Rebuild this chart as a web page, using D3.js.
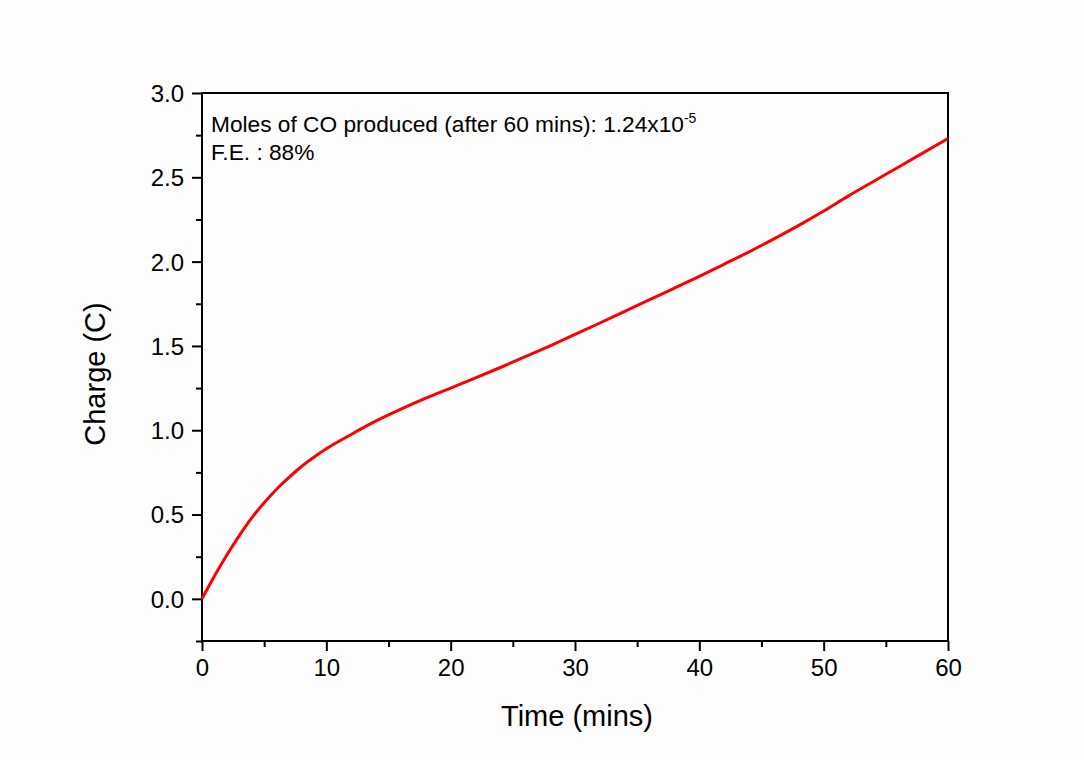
<!DOCTYPE html>
<html>
<head>
<meta charset="utf-8">
<script src="https://cdn.jsdelivr.net/npm/d3@7"></script>
<style>
  html, body { margin: 0; padding: 0; background: #fdfdfd; }
  svg { display: block; }
  text { font-family: "Liberation Sans", Arial, sans-serif; fill: #000; }
</style>
</head>
<body>
<svg id="chart" width="1084" height="760"></svg>
<script>
// Time (mins) and accumulated charge (C) during electrolysis
const timeMins = [0, 1, 2, 3, 4, 5, 6, 7, 8, 9, 10, 12, 14, 16, 18, 20, 22, 24, 26, 28, 30,
                  32, 34, 36, 38, 40, 42, 44, 46, 48, 50, 52, 54, 56, 58, 60];
const chargeC = [0, 0.135, 0.26, 0.375, 0.48, 0.57, 0.65, 0.72, 0.785, 0.84, 0.89, 0.975,
                 1.055, 1.125, 1.19, 1.25, 1.31, 1.372, 1.436, 1.501, 1.568, 1.636, 1.705,
                 1.774, 1.843, 1.913, 1.985, 2.058, 2.135, 2.215, 2.30, 2.39, 2.475, 2.56,
                 2.645, 2.73];

const xMajorTicks = [0, 10, 20, 30, 40, 50, 60];
const xMinorTicks = [5, 15, 25, 35, 45, 55];
const yMajorTicks = [0, 0.5, 1.0, 1.5, 2.0, 2.5, 3.0];
const yMinorTicks = [-0.25, 0.25, 0.75, 1.25, 1.75, 2.25, 2.75];

const noteLine1 = "Moles of CO produced (after 60 mins): 1.24x10";
const noteSup = "-5";
const noteLine2 = "F.E. : 88%";

const plot = { left: 202, right: 948, top: 93, bottom: 641 };

const svg = d3.select("#chart");

const x = d3.scaleLinear().domain([0, 60]).range([plot.left, plot.right]);
const y = d3.scaleLinear().domain([-0.25, 3.0]).range([plot.bottom, plot.top]);

// Bottom axis: major and minor ticks pointing outward
const xAxis = svg.append("g")
  .attr("transform", `translate(0,${plot.bottom})`)
  .call(d3.axisBottom(x).tickValues(xMajorTicks).tickSize(10).tickSizeOuter(0)
        .tickPadding(5).tickFormat(d3.format("d")));
svg.append("g")
  .attr("transform", `translate(0,${plot.bottom})`)
  .call(d3.axisBottom(x).tickValues(xMinorTicks).tickSize(6).tickSizeOuter(0).tickFormat(""))
  .call(g => g.select(".domain").remove());

// Left axis
const yAxis = svg.append("g")
  .attr("transform", `translate(${plot.left},0)`)
  .call(d3.axisLeft(y).tickValues(yMajorTicks).tickSize(10).tickSizeOuter(0)
        .tickPadding(8).tickFormat(d3.format(".1f")));
svg.append("g")
  .attr("transform", `translate(${plot.left},0)`)
  .call(d3.axisLeft(y).tickValues(yMinorTicks).tickSize(6).tickSizeOuter(0).tickFormat(""))
  .call(g => g.select(".domain").remove());

svg.selectAll(".tick line").attr("stroke", "#000").attr("stroke-width", 2);
svg.selectAll(".domain").remove();
svg.selectAll("g").attr("font-size", null).attr("font-family", null);
svg.selectAll(".tick text")
  .style("font-size", "24px")
  .style("font-family", "'Liberation Sans', Arial, sans-serif")
  .attr("fill", "#000");
xAxis.selectAll(".tick text").attr("dy", "0.85em");
yAxis.selectAll(".tick text").attr("dy", "0.35em");

// Frame around the plotting area
svg.append("rect")
  .attr("x", plot.left).attr("y", plot.top)
  .attr("width", plot.right - plot.left).attr("height", plot.bottom - plot.top)
  .attr("fill", "none").attr("stroke", "#000").attr("stroke-width", 2);

// Charge curve
const line = d3.line()
  .x((d, i) => x(timeMins[i]))
  .y(d => y(d))
  .curve(d3.curveMonotoneX);

svg.append("path")
  .datum(chargeC)
  .attr("d", line)
  .attr("fill", "none")
  .attr("stroke", "#ff0000")
  .attr("stroke-width", 3)
  .attr("stroke-linejoin", "round");

// Axis titles
svg.append("text")
  .attr("x", (plot.left + plot.right) / 2 + 2)
  .attr("y", 726)
  .attr("text-anchor", "middle")
  .style("font-size", "29px")
  .text("Time (mins)");

svg.append("text")
  .attr("transform", `translate(105,${(plot.top + plot.bottom) / 2 + 7}) rotate(-90)`)
  .attr("text-anchor", "middle")
  .style("font-size", "29px")
  .text("Charge (C)");

// Annotation
const note = svg.append("text")
  .attr("x", 211)
  .attr("y", 132)
  .style("font-size", "22.7px");
note.append("tspan").text(noteLine1);
note.append("tspan").style("font-size", "14px").attr("dy", -9).text(noteSup);

svg.append("text")
  .attr("x", 211)
  .attr("y", 160)
  .style("font-size", "22.7px")
  .text(noteLine2);
</script>
</body>
</html>
